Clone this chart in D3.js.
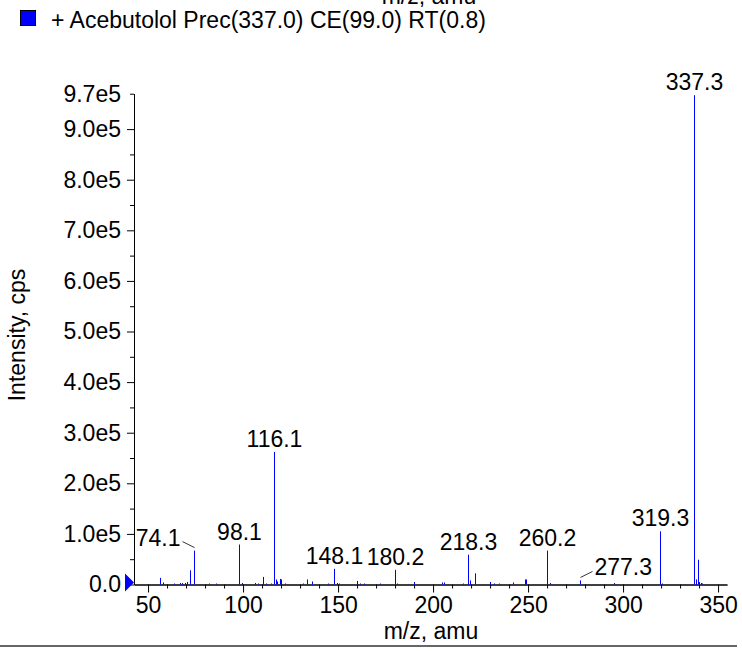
<html>
<head>
  <script src="https://d3js.org/d3.v7.min.js"></script>
  <style>
    body { margin: 0; background: #fff; }
    text { font-family: "Liberation Sans", Arial, Helvetica, sans-serif; fill: #000; }
  </style>
</head>
<body>
  <svg id="spectrum"></svg>

  <script>
    // spectrum peaks (m/z, intensity in cps)
    const peakMz = [56.1, 58.1, 63.5, 66.8, 68.0, 69.5, 70.7, 71.9, 74.1, 82.0, 86.0,
      98.1, 99.2, 106.3, 108.0, 110.4, 112.0, 114.5, 116.1, 117.2, 118.0, 119.6, 120.1,
      122.0, 131.8, 133.6, 136.1, 144.9, 148.1, 149.2, 150.5, 160.0, 161.5, 163.5, 172.0,
      180.2, 181.2, 190.2, 204.6, 206.0, 216.0, 218.3, 219.6, 222.2, 230.0, 232.0, 234.5,
      242.3, 248.2, 248.7, 260.2, 261.8, 277.3, 295.4, 319.3, 320.7, 337.3, 338.2, 339.3,
      340.0, 340.8, 341.5];
    const peakIntensity = [13000, 4000, 2000, 3000, 3000, 3000, 5000, 28000, 67000, 2000, 2000,
      79000, 3000, 3000, 2000, 15000, 2000, 2000, 262000, 10000, 6000, 11000, 10000,
      2000, 2000, 10000, 6000, 2000, 31000, 3000, 2000, 7000, 2000, 2000, 2000,
      29000, 2000, 5000, 4000, 4000, 2000, 59000, 8000, 22000, 5000, 2000, 2000,
      4000, 10000, 10000, 67000, 3000, 8000, 3000, 105000, 2000, 967000, 10000, 49000,
      5000, 3000, 2000];

    const labelledPeaks = [74.1, 98.1, 116.1, 148.1, 180.2, 218.3, 260.2, 277.3, 319.3, 337.3];

    const xTicks = [50, 100, 150, 200, 250, 300, 350];
    const yTicks = [0, 1e5, 2e5, 3e5, 4e5, 5e5, 6e5, 7e5, 8e5, 9e5];
    const yMax = 9.7e5;

    const legendText = '+ Acebutolol Prec(337.0) CE(99.0) RT(0.8)';
    const xTitle = 'm/z, amu';
    const yTitle = 'Intensity, cps';

    // labels pushed aside with a leader line
    const offsetLabels = { '74.1': -1, '277.3': 1 };

    const width = 742;
    const height = 651;
    const fontSize = 23;

    const svg = d3.select('#spectrum')
      .attr('width', width)
      .attr('height', height);

    const x = d3.scaleLinear().domain([42.6, 354.7]).range([134, 727]);
    const y = d3.scaleLinear().domain([0, yMax]).range([584.5, 93.7]);

    const fmt = v => v === 0 ? '0.0' : d3.format('.1e')(v).replace('e+', 'e');

    // cut-off title of the panel above
    svg.append('text')
      .attr('x', 429).attr('y', 4)
      .attr('text-anchor', 'middle')
      .style('font-size', fontSize + 'px')
      .text(xTitle);

    // legend
    svg.append('rect')
      .attr('x', 20.5).attr('y', 10.5)
      .attr('width', 15).attr('height', 15)
      .attr('fill', '#0000ff')
      .attr('stroke', '#000')
      .attr('stroke-width', 1);
    svg.append('text')
      .attr('x', 51).attr('y', 28)
      .style('font-size', fontSize + 'px')
      .text(legendText);

    // y axis
    const yMinor = d3.range(0.5e5, 9.5e5, 1e5);
    svg.append('g')
      .attr('transform', 'translate(134,0)')
      .call(d3.axisLeft(y).tickValues(yMinor).tickSize(4).tickSizeOuter(0).tickFormat(''));
    svg.append('g')
      .attr('transform', 'translate(134,0)')
      .call(d3.axisLeft(y).tickValues([yMax]).tickSize(4).tickSizeOuter(0).tickPadding(9).tickFormat(fmt));
    svg.append('g')
      .attr('transform', 'translate(134,0)')
      .call(d3.axisLeft(y).tickValues(yTicks).tickSize(7).tickSizeOuter(0).tickPadding(6).tickFormat(fmt));

    // x axis
    const xMinor = d3.range(50, 351, 10).filter(v => v % 50 !== 0);
    svg.append('g')
      .attr('transform', 'translate(0,584.5)')
      .call(d3.axisBottom(x).tickValues(xMinor).tickSize(4).tickSizeOuter(0).tickFormat(''));
    svg.append('g')
      .attr('transform', 'translate(0,584.5)')
      .call(d3.axisBottom(x).tickValues(xTicks).tickSize(8).tickSizeOuter(0).tickPadding(4).tickFormat(d3.format('d')));

    svg.selectAll('.tick text')
      .style('font-size', fontSize + 'px')
      .attr('fill', '#000');
    svg.selectAll('.domain, .tick line').attr('stroke', '#000');

    // axis titles
    svg.append('text')
      .attr('x', 431).attr('y', 639)
      .attr('text-anchor', 'middle')
      .style('font-size', fontSize + 'px')
      .text(xTitle);
    svg.append('text')
      .attr('transform', 'translate(25,335) rotate(-90)')
      .attr('text-anchor', 'middle')
      .style('font-size', fontSize + 'px')
      .text(yTitle);

    // peaks
    const peaks = peakMz.map((mz, i) => ({ mz: mz, value: peakIntensity[i] }));
    svg.append('g')
      .selectAll('line')
      .data(peaks)
      .enter().append('line')
      .attr('x1', d => Math.round(x(d.mz)) + 0.5)
      .attr('x2', d => Math.round(x(d.mz)) + 0.5)
      .attr('y1', y(0))
      .attr('y2', d => y(d.value))
      .attr('stroke', '#0000ff')
      .attr('stroke-width', 1);

    // start marker on the y axis
    svg.append('path')
      .attr('d', d3.line()([[125, y(0) - 11], [125, y(0) + 7], [134, y(0) - 2]]) + 'Z')
      .attr('fill', '#0000ff');

    // peak labels
    const labels = labelledPeaks.map(mz => {
      const p = peaks.find(d => d.mz === mz);
      return { mz: mz, px: Math.round(x(mz)) + 0.5, top: y(p.value), side: offsetLabels[mz.toFixed(1)] || 0 };
    });
    const lg = svg.append('g');
    lg.selectAll('text')
      .data(labels)
      .enter().append('text')
      .attr('x', d => d.px + d.side * 14)
      .attr('y', d => d.top - 5)
      .attr('text-anchor', d => d.side < 0 ? 'end' : d.side > 0 ? 'start' : 'middle')
      .style('font-size', fontSize + 'px')
      .text(d => d.mz.toFixed(1));
    lg.selectAll('line')
      .data(labels.filter(d => d.side !== 0))
      .enter().append('line')
      .attr('x1', d => d.px)
      .attr('y1', d => d.top - 3)
      .attr('x2', d => d.px + d.side * 12)
      .attr('y2', d => d.top - 9)
      .attr('stroke', '#000')
      .attr('stroke-width', 0.8);

    // frame line at the bottom
    svg.append('line')
      .attr('x1', 0).attr('x2', 737)
      .attr('y1', 646).attr('y2', 646)
      .attr('stroke', '#333')
      .attr('stroke-width', 1.5);
  </script>
</body>
</html>
